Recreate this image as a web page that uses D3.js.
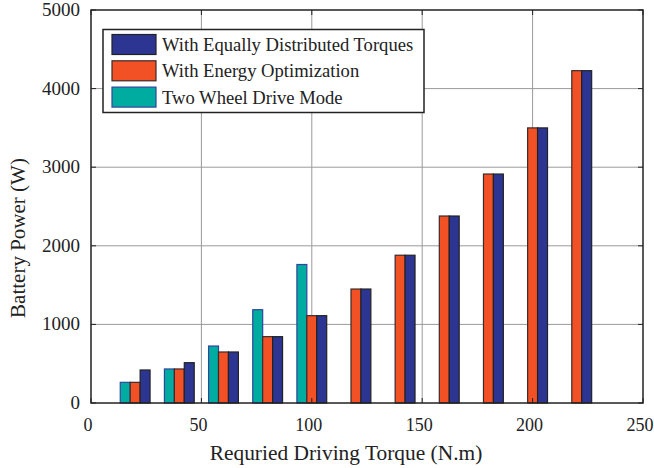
<!DOCTYPE html>
<html><head><meta charset="utf-8">
<script src="https://cdn.jsdelivr.net/npm/d3@7"></script>
<style>body{margin:0;background:#fff}svg{display:block}</style>
</head><body>
<svg id="c" width="654" height="468" font-family="'Liberation Serif', 'Times New Roman', Times, 'DejaVu Serif', serif"></svg>
<script>
const torques = [20, 40, 60, 80, 100, 120, 140, 160, 180, 200, 220];
const twoWheel = [263, 433, 725, 1187, 1762, 0, 0, 0, 0, 0, 0];
const energyOpt = [263, 433, 649, 844, 1111, 1450, 1880, 2379, 2913, 3500, 4228];
const equalTorque = [420, 513, 649, 844, 1111, 1450, 1880, 2379, 2913, 3500, 4228];
const xTicks = [0, 50, 100, 150, 200, 250];
const yTicks = [0, 1000, 2000, 3000, 4000, 5000];
const seriesNames = ["With Equally Distributed Torques", "With Energy Optimization", "Two Wheel Drive Mode"];

const svg = d3.select("#c");
const FONT = "'Liberation Serif', 'Times New Roman', Times, 'DejaVu Serif', serif";
const L = 91, R = 643, T = 10, B = 403;
const x = d3.scaleLinear().domain([0, 250]).range([L, R]);
const y = d3.scaleLinear().domain([0, 5000]).range([B, T]);

// grid
const g = svg.append("g");
g.selectAll(".gx").data(xTicks.slice(1, -1)).enter().append("line")
  .attr("x1", d => x(d)).attr("x2", d => x(d)).attr("y1", T).attr("y2", B)
  .attr("stroke", "#9a9a9a").attr("stroke-width", 1);
g.selectAll(".gy").data(yTicks.slice(1, -1)).enter().append("line")
  .attr("x1", L).attr("x2", R).attr("y1", d => y(d)).attr("y2", d => y(d))
  .attr("stroke", "#9a9a9a").attr("stroke-width", 1);

// bars
const bw = 4.5;
const series = [
  {vals: twoWheel, off: -1, fill: "#00aba0", stroke: "#3344a0"},
  {vals: energyOpt, off: 0, fill: "#f15125", stroke: "#3a2a2a"},
  {vals: equalTorque, off: 1, fill: "#2c3592", stroke: "#222"}
];
series.forEach(s => {
  svg.append("g").selectAll("rect").data(torques.map((t, i) => ({t, v: s.vals[i]}))).enter().append("rect")
    .attr("x", d => x(d.t + s.off * bw - bw / 2))
    .attr("width", x(bw) - x(0))
    .attr("y", d => y(d.v))
    .attr("height", d => y(0) - y(d.v))
    .attr("fill", s.fill).attr("stroke", s.stroke).attr("stroke-width", 1.2);
});

// axes box
svg.append("rect").attr("x", L).attr("y", T).attr("width", R - L).attr("height", B - T)
  .attr("fill", "none").attr("stroke", "#222").attr("stroke-width", 1.5);

// ticks (inward)
const tk = 5;
const ax = svg.append("g").attr("stroke", "#222").attr("stroke-width", 1);
xTicks.forEach(d => {
  ax.append("line").attr("x1", x(d)).attr("x2", x(d)).attr("y1", B).attr("y2", B - tk);
  ax.append("line").attr("x1", x(d)).attr("x2", x(d)).attr("y1", T).attr("y2", T + tk);
});
yTicks.forEach(d => {
  ax.append("line").attr("x1", L).attr("x2", L + tk).attr("y1", y(d)).attr("y2", y(d));
  ax.append("line").attr("x1", R).attr("x2", R - tk).attr("y1", y(d)).attr("y2", y(d));
});

// tick labels
svg.append("g").selectAll("text").data(xTicks).enter().append("text")
  .attr("font-family", FONT).attr("fill", "#222")
  .attr("x", d => x(d) - 3).attr("y", 431).attr("text-anchor", "middle")
  .attr("font-size", 18).text(d => d);
svg.append("g").selectAll("text").data(yTicks).enter().append("text")
  .attr("font-family", FONT).attr("fill", "#222")
  .attr("x", 80).attr("y", d => y(d) + 6).attr("text-anchor", "end")
  .attr("font-size", 19).text(d => d);

// axis labels
svg.append("text").attr("font-family", FONT).attr("fill", "#222")
  .attr("x", 346).attr("y", 460).attr("text-anchor", "middle")
  .attr("font-size", 21.4).text("Requried Driving Torque (N.m)");
svg.append("text").attr("font-family", FONT).attr("fill", "#222")
  .attr("transform", "translate(25,238) rotate(-90)")
  .attr("text-anchor", "middle").attr("font-size", 21).text("Battery Power (W)");

// legend
const lg = svg.append("g");
lg.append("rect").attr("x", 103).attr("y", 29.5).attr("width", 321).attr("height", 83)
  .attr("fill", "#fff").attr("stroke", "#222").attr("stroke-width", 1.5);
const legItems = [
  {name: seriesNames[0], fill: "#2c3592", stroke: "#222"},
  {name: seriesNames[1], fill: "#f15125", stroke: "#3a2a2a"},
  {name: seriesNames[2], fill: "#00aba0", stroke: "#3344a0"}
];
legItems.forEach((d, i) => {
  lg.append("rect").attr("x", 112).attr("y", 34.5 + i * 26.3).attr("width", 44).attr("height", 20)
    .attr("fill", d.fill).attr("stroke", d.stroke).attr("stroke-width", 1.2);
  lg.append("text").attr("font-family", FONT).attr("fill", "#222")
    .attr("x", 162).attr("y", 51 + i * 26.3).attr("font-size", 18.6).text(d.name);
});
</script>
</body></html>
